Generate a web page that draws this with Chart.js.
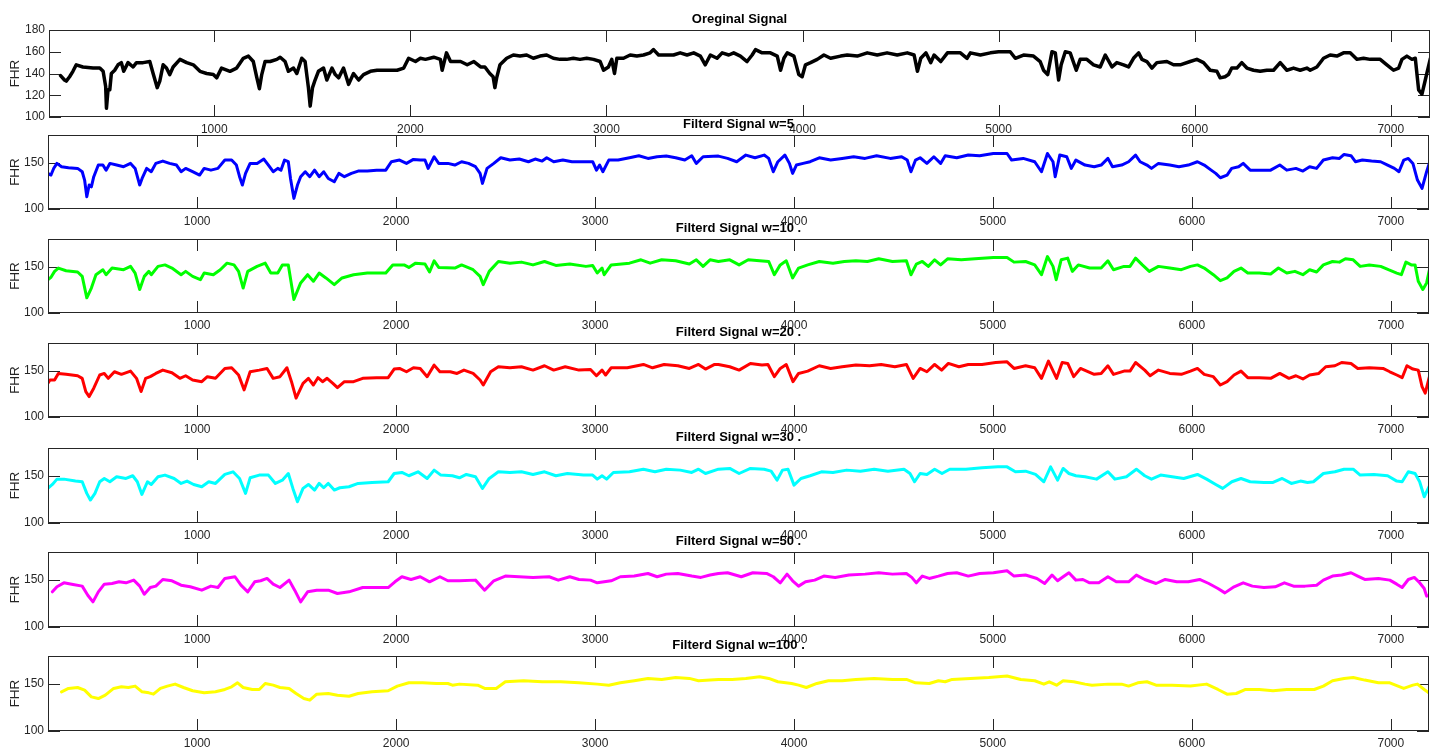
<!DOCTYPE html>
<html>
<head>
<meta charset="utf-8">
<script src="https://cdn.jsdelivr.net/npm/chart.js@4.4.1/dist/chart.umd.min.js"></script>
<style>
  html, body { margin: 0; padding: 0; background: #ffffff; }
  #wrap { position: relative; width: 1437px; height: 749px; overflow: hidden; background: #ffffff; }
  #wrap canvas { position: absolute; left: 0; }
</style>
</head>
<body>
<div id="wrap"></div>
<script>
// ---------------- DATA ----------------
const xTickValues = [1000, 2000, 3000, 4000, 5000, 6000, 7000];
const yTicksOriginal = [100, 120, 140, 160, 180];
const yTicksFiltered = [100, 150];
const panelTitles = ['Oreginal Signal', 'Filterd Signal w=5', 'Filterd Signal w=10 .', 'Filterd Signal w=20 .', 'Filterd Signal w=30 .', 'Filterd Signal w=50 .', 'Filterd Signal w=100 .'];
const yAxisLabel = 'FHR';

const originalSignal = [[216,138],[236,134],[245,133],[262,137],[279,142],[296,148],[330,146],[382,145],[416,145],[433,142],[446,128],[450,108],[458,125],[467,125],[475,140],[492,143],[509,148],[526,150],[538,142],[560,150],[586,146],[603,150],[637,150],[671,151],[688,140],[709,127],[722,133],[739,148],[756,145],[773,139],[790,146],[825,153],[859,150],[893,148],[927,142],[961,140],[995,139],[1012,136],[1037,145],[1080,142],[1114,145],[1148,154],[1174,156],[1199,151],[1216,137],[1230,126],[1242,139],[1259,151],[1285,151],[1319,153],[1336,155],[1361,151],[1378,142],[1404,145],[1421,140],[1446,154],[1463,151],[1480,127],[1489,110],[1501,127],[1514,134],[1531,142],[1557,145],[1574,134],[1600,145],[1617,139],[1634,136],[1659,145],[1685,130],[1710,140],[1736,134],[1761,139],[1796,142],[1830,143],[1881,143],[1932,143],[1966,145],[1991,154],[2026,151],[2051,154],[2077,153],[2119,155],[2153,153],[2162,143],[2184,159],[2205,151],[2256,151],[2290,148],[2324,151],[2358,146],[2380,146],[2405,140],[2422,137],[2431,127],[2440,136],[2457,148],[2491,154],[2525,157],[2559,156],[2593,157],[2627,154],[2661,156],[2695,157],[2729,154],[2763,153],[2797,153],[2831,154],[2865,153],[2899,154],[2934,153],[2968,151],[2985,143],[3010,146],[3027,153],[3041,140],[3053,154],[3087,154],[3121,157],[3155,156],[3189,157],[3223,159],[3240,162],[3266,157],[3308,157],[3342,157],[3376,159],[3411,157],[3445,159],[3479,156],[3504,148],[3530,157],[3564,154],[3590,159],[3624,157],[3649,159],[3683,156],[3717,151],[3743,157],[3760,162],[3794,159],[3836,159],[3871,156],[3888,143],[3905,154],[3922,159],[3956,156],[3981,139],[3998,137],[4015,148],[4041,150],[4075,153],[4109,157],[4143,154],[4194,156],[4228,157],[4279,156],[4330,159],[4381,157],[4431,159],[4483,157],[4534,159],[4569,157],[4586,142],[4603,154],[4629,159],[4654,150],[4671,157],[4705,151],[4739,159],[4790,159],[4805,159],[4839,154],[4856,159],[4907,157],[4958,159],[5000,160],[5059,160],[5085,154],[5127,157],[5178,156],[5212,151],[5229,143],[5250,139],[5272,160],[5289,159],[5306,134],[5319,148],[5340,160],[5365,159],[5396,143],[5416,153],[5450,153],[5484,148],[5518,146],[5544,157],[5578,146],[5603,150],[5637,148],[5663,146],[5688,154],[5714,159],[5731,153],[5756,151],[5782,145],[5807,150],[5858,151],[5892,148],[5926,148],[5977,151],[6011,153],[6045,150],[6079,143],[6113,142],[6130,136],[6155,137],[6172,139],[6189,145],[6215,145],[6240,150],[6266,145],[6300,143],[6334,142],[6368,143],[6402,143],[6436,150],[6470,143],[6504,145],[6538,143],[6572,145],[6589,143],[6623,146],[6657,154],[6691,157],[6725,156],[6759,159],[6793,159],[6827,153],[6861,154],[6895,153],[6946,153],[6980,148],[7014,143],[7040,145],[7057,153],[7082,156],[7108,153],[7125,154],[7142,125],[7159,121],[7176,134],[7202,154]];

const filteredW5 = [[249,138.5],[265,136.7],[279,144],[295,149.3],[318,145.7],[353,144.6],[399,143.9],[422,140.3],[434,131.3],[445,113.3],[457,125.9],[468,124],[480,134.9],[503,147.5],[526,147.5],[542,142],[561,149.3],[595,147.5],[630,145.7],[665,149.3],[688,143.9],[711,125.9],[723,133],[746,143.9],[769,140.3],[792,149.3],[827,151.8],[861,149.3],[896,147.5],[919,140.3],[942,143.9],[977,140.3],[1012,136.7],[1035,143.9],[1069,142],[1104,143.9],[1139,152.9],[1173,152.9],[1197,147.5],[1213,134.9],[1227,125.9],[1243,138.5],[1266,149.3],[1301,149.3],[1335,154],[1358,147.5],[1382,140.3],[1405,143.9],[1421,142],[1439,152.9],[1458,151.1],[1469,133],[1486,111.5],[1504,125.9],[1520,134.9],[1543,140.3],[1566,134.9],[1590,142],[1613,134.9],[1636,140.3],[1659,133],[1689,129.5],[1712,138.5],[1740,134.9],[1775,138.5],[1809,141],[1855,141],[1902,142],[1948,142],[1976,151.1],[2017,152.9],[2052,149.3],[2087,153.6],[2121,152.9],[2145,152.9],[2161,143.9],[2191,156.5],[2214,149.3],[2260,149.3],[2295,147.5],[2329,151.1],[2364,149.3],[2399,145.7],[2422,138.5],[2434,127.7],[2457,143.9],[2491,149.3],[2526,155.4],[2572,152.9],[2619,154],[2665,151.1],[2699,154],[2734,151.8],[2757,155.4],[2792,151.1],[2838,152.9],[2884,151.1],[2942,151.1],[2988,151.1],[3007,142],[3023,147.5],[3039,140.3],[3069,152.9],[3116,152.9],[3173,155.4],[3220,157.6],[3266,154.7],[3312,156.5],[3358,157.2],[3405,155.4],[3451,152.9],[3486,157.6],[3509,149.3],[3543,156.5],[3620,157.2],[3666,154.7],[3712,151.1],[3758,158.3],[3804,155.4],[3850,158.3],[3873,154.7],[3896,140.3],[3919,151.1],[3954,158.3],[3977,149.3],[3993,138.5],[4012,147.5],[4046,149.3],[4081,151.1],[4127,155.4],[4184,152.9],[4242,154.7],[4300,156.5],[4357,154.7],[4415,157.6],[4484,154.7],[4541,156.5],[4569,152.9],[4588,140.3],[4611,152.9],[4634,155.4],[4668,149.3],[4703,156.5],[4737,149.3],[4760,157.6],[4818,155.4],[4876,158.3],[4933,157.6],[5002,160],[5071,160],[5094,152.9],[5152,154.7],[5210,151.1],[5244,140.3],[5274,160],[5302,151.1],[5313,134.9],[5336,158.3],[5371,156.5],[5394,143.9],[5417,152.9],[5463,147.5],[5509,145.7],[5544,147.5],[5578,154.7],[5601,145.7],[5647,147.5],[5682,151.1],[5717,158.3],[5740,151.1],[5774,147.5],[5797,143.9],[5832,149.3],[5889,147.5],[5935,145.7],[5982,147.5],[6028,151.1],[6062,147.5],[6097,142],[6120,138.5],[6143,133.8],[6177,136.7],[6200,143.9],[6235,145.7],[6258,149.3],[6293,142],[6350,142],[6396,142],[6442,147.5],[6477,142],[6523,143.9],[6558,141],[6592,145.7],[6627,143.9],[6661,152.9],[6707,155.4],[6742,154.7],[6765,159],[6800,157.6],[6822,151.1],[6857,152.9],[6903,151.8],[6949,151.1],[6984,147.5],[7018,143.9],[7041,140.3],[7065,152.9],[7088,154.7],[7111,149.3],[7134,131.3],[7157,122.3],[7180,140.3],[7196,151.1]];

const filteredW10 = [[249,136],[265,138.6],[283,145],[302,148.6],[341,145.7],[399,144.3],[422,139.6],[445,116.4],[468,127],[491,141.4],[526,146.8],[542,141.4],[572,148.6],[630,146.8],[665,150.4],[688,143.2],[711,125.4],[734,139.6],[757,145],[769,141.4],[803,150.4],[838,152],[873,148.6],[919,141.4],[942,145],[977,139.6],[1016,136],[1035,143.2],[1081,141.4],[1116,146.8],[1150,153.9],[1185,152],[1208,145],[1231,127],[1254,145],[1301,150.4],[1342,153.9],[1370,143.2],[1405,143.2],[1428,152],[1458,152],[1486,114.6],[1520,132.5],[1555,141.4],[1584,134.3],[1613,143.2],[1647,137.9],[1689,130.7],[1728,137.9],[1786,141.4],[1855,143.2],[1948,143.2],[1983,152],[2040,152],[2064,149.3],[2098,153.9],[2145,152.9],[2168,144.3],[2191,156.4],[2214,149.3],[2295,148.6],[2329,152],[2387,146.8],[2422,139.6],[2438,130.7],[2468,145],[2514,155.7],[2572,153.9],[2630,155],[2688,152],[2746,155.7],[2803,151.4],[2873,152.9],[2954,150.4],[2988,151.4],[3011,143.2],[3035,148.6],[3046,141.4],[3081,152],[3173,153.9],[3231,157.5],[3277,153.9],[3335,157.5],[3405,156.4],[3474,152.9],[3509,157.5],[3543,150.4],[3578,157.5],[3620,155.7],[3677,157.5],[3724,152],[3770,157.5],[3827,156.4],[3873,155.7],[3901,141.4],[3931,152],[3961,156.4],[3993,137.9],[4023,148.6],[4069,152],[4127,155.7],[4196,153.9],[4253,155.7],[4311,156.4],[4369,155.7],[4426,158.6],[4495,155.7],[4565,156.4],[4588,141.4],[4615,152.9],[4645,155.7],[4675,150.4],[4707,157.5],[4737,152],[4772,158.6],[4841,157.5],[4910,158.6],[5002,160],[5071,160],[5106,155],[5164,155.7],[5210,152],[5244,141.4],[5274,161],[5302,150.4],[5318,136],[5343,157.5],[5376,159.3],[5399,145],[5429,152],[5486,148.6],[5544,148.6],[5578,156.4],[5606,146.8],[5659,150.4],[5689,150.4],[5717,159.3],[5751,152],[5786,145],[5832,150.4],[5889,148.6],[5947,146.8],[5993,150.4],[6028,152],[6062,148.6],[6108,141.4],[6143,135],[6177,137.9],[6212,145],[6247,148.6],[6281,143.2],[6339,143.2],[6396,142.1],[6435,148.6],[6477,143.2],[6518,145],[6558,141.4],[6592,146.8],[6627,144.3],[6661,152],[6707,155.7],[6742,155],[6772,158.6],[6811,157.5],[6846,150.4],[6892,152],[6949,150.4],[6988,146.8],[7030,143.2],[7053,141.4],[7076,155],[7103,152],[7122,152],[7138,134.3],[7161,125.4],[7180,132.5],[7196,148.6]];

const filteredW20 = [[249,136.4],[260,140],[283,140],[302,147.1],[341,146.1],[399,144.6],[422,141.8],[440,127.5],[457,122.1],[480,131.1],[510,145.4],[533,147.1],[553,141.8],[584,148.9],[619,146.1],[665,149.6],[695,141.8],[718,127.5],[741,141.8],[764,143.6],[792,147.1],[827,150.7],[873,147.9],[913,141.8],[942,144.6],[977,140],[1023,138.2],[1051,143.6],[1092,141.8],[1139,152.5],[1173,153.2],[1208,145.4],[1236,129.3],[1266,148.9],[1312,150.7],[1351,152.5],[1382,141.8],[1416,143.6],[1451,153.2],[1474,138.2],[1497,120.4],[1532,136.4],[1559,141.8],[1584,134.6],[1607,142.5],[1630,138.2],[1653,141.8],[1682,136.4],[1705,131.8],[1740,138.2],[1786,138.2],[1832,141.8],[1902,142.5],[1960,142.5],[1990,151.8],[2017,152.5],[2052,148.9],[2087,153.2],[2121,152.5],[2156,143.6],[2191,156.1],[2220,148.9],[2272,148.9],[2306,147.1],[2341,150.7],[2387,147.1],[2422,140],[2438,134.6],[2475,148.9],[2514,154.3],[2572,153.2],[2630,154.3],[2688,150.7],[2746,155.4],[2792,150.7],[2850,154.3],[2919,150.7],[2977,151.4],[3007,144.6],[3035,150.7],[3053,145.4],[3081,153.2],[3162,153.2],[3243,156.8],[3289,153.2],[3347,156.8],[3416,155.4],[3474,152.5],[3520,156.8],[3555,151.8],[3601,156.8],[3620,156.8],[3677,154.3],[3724,150.7],[3781,157.9],[3839,156.1],[3869,156.8],[3901,143.6],[3931,152.5],[3961,156.8],[3995,138.2],[4023,147.1],[4069,149.6],[4127,155.4],[4184,152.5],[4242,154.3],[4311,156.1],[4380,155.4],[4438,156.8],[4507,154.3],[4565,156.8],[4599,141.8],[4634,152.5],[4668,148.9],[4707,156.8],[4742,150.7],[4776,157.9],[4829,154.3],[4876,156.8],[4945,156.8],[5014,158.9],[5071,159.6],[5106,152.5],[5164,155.4],[5210,153.2],[5244,141.8],[5279,160.4],[5320,141.8],[5348,158.9],[5376,157.9],[5406,143.6],[5440,152.5],[5509,146.1],[5544,147.1],[5578,155.4],[5606,146.1],[5659,149.6],[5689,149.6],[5717,158.9],[5763,150.7],[5790,144.6],[5832,150.7],[5889,147.1],[5947,146.1],[5993,149.6],[6028,152.5],[6062,146.1],[6108,143.6],[6143,134.6],[6177,138.2],[6212,145.4],[6247,149.6],[6281,142.5],[6339,142.5],[6396,141.8],[6442,147.1],[6488,141.8],[6523,144.6],[6558,141.1],[6592,145.4],[6638,147.1],[6673,154.3],[6719,155.4],[6753,158.9],[6800,157.9],[6834,152.5],[6892,153.2],[6961,152.5],[6995,148.9],[7030,145.4],[7057,142.5],[7081,155.4],[7111,151.8],[7138,150.7],[7157,132.9],[7173,125.7],[7196,145.4]];

const filteredW30 = [[249,136.9],[272,141.1],[295,146.8],[330,146.8],[388,144.7],[422,144],[445,131.6],[463,124.5],[486,131.6],[510,144],[533,147.5],[561,144],[595,149.3],[642,147.5],[676,150.4],[699,144],[722,130.5],[750,144],[769,141.1],[803,149.3],[838,151.1],[884,147.5],[919,142.2],[949,144.7],[982,141.1],[1023,138.7],[1058,144],[1092,142.2],[1139,151.8],[1180,154.6],[1213,147.5],[1243,131.6],[1266,148.2],[1312,151.1],[1358,151.1],[1393,142.2],[1428,145.7],[1458,152.8],[1481,136.9],[1504,122.7],[1532,136.9],[1559,141.1],[1590,135.1],[1613,142.2],[1636,137.6],[1659,142.2],[1689,135.1],[1717,137.6],[1763,138.7],[1809,142.2],[1879,143.3],[1960,144],[1990,152.8],[2029,153.9],[2064,150.4],[2110,154.6],[2156,147.5],[2191,156.4],[2225,151.1],[2283,150.4],[2318,148.2],[2353,151.8],[2399,149.3],[2434,136.9],[2468,147.5],[2514,154.6],[2572,153.9],[2630,154.6],[2688,151.8],[2746,154.6],[2803,150.4],[2861,152.8],[2942,151.1],[2988,151.1],[3011,146.8],[3035,150.4],[3058,146.8],[3092,153.9],[3173,154.6],[3243,157.4],[3301,154.6],[3358,157.4],[3428,156.4],[3486,153.9],[3520,157.4],[3555,152.8],[3620,157.4],[3677,158.2],[3724,152.8],[3781,158.2],[3850,157.4],[3885,155.3],[3915,145.7],[3942,156.4],[3970,157.4],[4000,140.4],[4035,147.5],[4081,150.4],[4138,154.6],[4196,153.9],[4265,156.4],[4334,155.3],[4403,157.4],[4472,155.3],[4553,157.4],[4583,152.8],[4606,144],[4634,152.8],[4668,151.8],[4707,157.4],[4744,152.8],[4783,157.4],[4864,157.4],[4945,158.9],[5025,159.9],[5071,159.9],[5113,154.6],[5164,155.3],[5214,151.8],[5256,144],[5290,159.9],[5325,145.7],[5353,158.2],[5382,152.8],[5417,150.4],[5463,149.3],[5521,146.8],[5578,154.6],[5613,146.8],[5671,149.3],[5721,157.4],[5763,150.4],[5797,146.8],[5843,151.1],[5901,149.3],[5959,147.5],[6028,151.8],[6074,146.8],[6120,141.1],[6155,136.9],[6201,144],[6247,147.5],[6293,144],[6362,143.3],[6408,143.3],[6454,147.5],[6500,142.2],[6546,144.7],[6581,143.3],[6611,144],[6661,152.8],[6719,154.6],[6765,157.4],[6811,157.4],[6846,151.1],[6915,151.8],[6984,150.4],[7030,144.7],[7057,144],[7088,154.6],[7122,152.8],[7145,144],[7168,128],[7196,140.4]];

const filteredW50 = [[272,137.5],[295,142.9],[330,147.1],[376,145.4],[422,143.6],[450,133.9],[476,126.8],[503,137.5],[533,145.7],[572,146.4],[607,148.2],[642,147.1],[681,150],[711,143.6],[734,135],[764,142.1],[792,143.6],[827,150.7],[873,149.3],[919,144.6],[965,142.9],[1023,139.3],[1069,143.6],[1104,142.1],[1139,151.8],[1190,153.6],[1220,144.6],[1254,137.5],[1289,148.2],[1319,149.3],[1351,151.8],[1382,145.7],[1416,142.1],[1462,150],[1490,139.3],[1520,126.8],[1555,137.5],[1601,139.3],[1659,139.3],[1705,135.7],[1763,137.5],[1832,142.1],[1960,142.1],[1994,148.2],[2029,153.6],[2075,150.7],[2121,153.6],[2168,148.2],[2220,153.6],[2260,149.3],[2318,149.3],[2399,150],[2445,139.3],[2491,149.3],[2549,154.3],[2618,153.6],[2688,152.9],[2769,153.6],[2815,150],[2873,153.6],[2919,150.7],[2977,150],[3011,147.1],[3081,149.3],[3127,153.6],[3197,154.3],[3266,157.1],[3312,153.6],[3358,156.4],[3416,157.1],[3486,154.3],[3532,152.9],[3578,155.4],[3620,157.1],[3666,157.9],[3735,153.6],[3793,157.9],[3862,157.1],[3896,153.6],[3931,147.1],[3965,156.4],[3993,149.3],[4023,143.6],[4058,148.2],[4104,150],[4150,154.3],[4207,152.9],[4276,155.4],[4357,156.4],[4426,157.9],[4495,156.4],[4565,157.1],[4592,152.9],[4615,147.1],[4645,154.3],[4680,151.8],[4726,154.3],[4772,157.1],[4818,157.9],[4876,154.3],[4933,157.1],[5002,157.9],[5071,160],[5106,154.3],[5164,155.4],[5221,151.8],[5260,146.4],[5297,155.4],[5325,149.3],[5353,153.6],[5382,157.9],[5417,150],[5452,150.7],[5486,147.1],[5532,147.1],[5578,153.6],[5620,148.2],[5682,148.2],[5721,155.4],[5763,150.7],[5820,146.4],[5866,150.7],[5924,148.2],[5982,148.2],[6039,150.7],[6085,146.4],[6131,141.1],[6166,136.4],[6212,142.9],[6258,147.1],[6304,143.6],[6362,142.1],[6419,142.9],[6465,147.1],[6511,143.6],[6569,143.6],[6627,144.6],[6661,150],[6707,154.3],[6753,155.4],[6800,157.9],[6834,154.3],[6869,150.7],[6938,151.8],[6995,150],[7030,145.7],[7057,142.1],[7088,150.7],[7118,152.9],[7141,148.2],[7168,141.1],[7180,132.9],[7196,133.9]];

const filteredW100 = [[318,141.8],[353,145.4],[399,146.4],[434,143.6],[468,136.4],[503,134.6],[538,138.2],[580,145.4],[619,147.1],[654,146.4],[688,147.9],[723,141.8],[757,140.7],[780,139.3],[815,145.4],[850,147.9],[889,150],[931,146.4],[977,142.9],[1035,140.7],[1092,141.8],[1139,144.3],[1173,147.1],[1203,151.4],[1231,146.4],[1277,144.3],[1312,144.3],[1342,150.7],[1382,148.9],[1416,146.4],[1462,145.4],[1497,140],[1536,134.6],[1566,132.9],[1601,139.3],[1659,140],[1705,138.2],[1763,137.1],[1809,140],[1879,141.8],[1960,142.9],[2006,147.9],[2064,151.4],[2133,151.4],[2202,150.7],[2260,150.7],[2283,148.9],[2318,150],[2410,148.9],[2445,145.4],[2503,145.4],[2549,152.5],[2641,153.6],[2734,152.5],[2827,152.5],[2919,151.4],[3011,150],[3069,148.9],[3127,151.4],[3197,153.6],[3266,156.1],[3335,155],[3405,157.1],[3474,156.1],[3520,153.6],[3578,154.3],[3620,155],[3689,155],[3758,156.1],[3827,157.9],[3873,156.1],[3919,152.5],[3988,150.7],[4023,148.9],[4062,146.4],[4115,150.7],[4173,153.6],[4242,153.6],[4311,155],[4403,156.1],[4495,155],[4565,155],[4611,151.4],[4680,150.7],[4726,153.6],[4760,152.5],[4795,155],[4887,156.1],[4979,157.1],[5071,158.6],[5140,155],[5210,153.6],[5256,150],[5283,152.5],[5320,148.9],[5353,153.6],[5406,152.5],[5463,150],[5498,148.9],[5578,150],[5647,150],[5682,147.9],[5728,151.4],[5774,152.5],[5820,148.9],[5901,148.9],[5993,147.9],[6074,150],[6131,144.3],[6177,139.3],[6223,140],[6270,144.3],[6339,144.3],[6408,142.9],[6477,144.3],[6546,144.3],[6615,144.3],[6661,147.9],[6707,153.6],[6765,156.1],[6811,157.1],[6869,154.3],[6938,151.4],[6995,151.4],[7065,145.4],[7111,148.9],[7134,150],[7168,144.3],[7191,140.7]];

// ---------------- LAYOUT / STYLE (not data) ----------------
const CANVAS_W = 1437;
const TITLE_H = 18;
const XAXIS_H = 22;
const panels = [
  { title: panelTitles[0], data: originalSignal, color: '#000000', lw: 3.5, yTicks: yTicksOriginal, xMin: 157, xMax: 7200, top: 30,  bottom: 117, left: 49, right: 1430 },
  { title: panelTitles[1], data: filteredW5,     color: '#0000ff', lw: 3,   yTicks: yTicksFiltered, xMin: 250, xMax: 7192, top: 135, bottom: 209, left: 48, right: 1429 },
  { title: panelTitles[2], data: filteredW10,    color: '#00ff00', lw: 3,   yTicks: yTicksFiltered, xMin: 250, xMax: 7192, top: 239, bottom: 313, left: 48, right: 1429 },
  { title: panelTitles[3], data: filteredW20,    color: '#ff0000', lw: 3,   yTicks: yTicksFiltered, xMin: 250, xMax: 7192, top: 343, bottom: 417, left: 48, right: 1429 },
  { title: panelTitles[4], data: filteredW30,    color: '#00ffff', lw: 3,   yTicks: yTicksFiltered, xMin: 250, xMax: 7192, top: 448, bottom: 523, left: 48, right: 1429 },
  { title: panelTitles[5], data: filteredW50,    color: '#ff00ff', lw: 3,   yTicks: yTicksFiltered, xMin: 250, xMax: 7192, top: 552, bottom: 627, left: 48, right: 1429 },
  { title: panelTitles[6], data: filteredW100,   color: '#ffff00', lw: 3,   yTicks: yTicksFiltered, xMin: 250, xMax: 7192, top: 656, bottom: 731, left: 48, right: 1429 }
];

Chart.defaults.font.family = "'Liberation Sans', Arial, Helvetica, sans-serif";
const AXIS_COLOR = '#262626';
const TICK_LEN = 12;

// draws MATLAB-style inward ticks (from the scales' own ticks) and the axes box
const matlabBox = {
  id: 'matlabBox',
  beforeDatasetsDraw(chart) {
    const { ctx, chartArea: a, scales: { x, y } } = chart;
    ctx.save();
    ctx.strokeStyle = AXIS_COLOR;
    ctx.lineWidth = 1;
    ctx.beginPath();
    x.ticks.forEach(t => {
      const px = Math.round(x.getPixelForValue(t.value)) + 0.5;
      ctx.moveTo(px, a.bottom); ctx.lineTo(px, a.bottom - TICK_LEN);
      ctx.moveTo(px, a.top); ctx.lineTo(px, a.top + TICK_LEN);
    });
    y.ticks.forEach(t => {
      const py = Math.round(y.getPixelForValue(t.value)) + 0.5;
      ctx.moveTo(a.left, py); ctx.lineTo(a.left + TICK_LEN, py);
      ctx.moveTo(a.right, py); ctx.lineTo(a.right - TICK_LEN, py);
    });
    ctx.stroke();
    ctx.restore();
  },
  afterDatasetsDraw(chart) {
    const { ctx, chartArea: a } = chart;
    ctx.save();
    ctx.strokeStyle = AXIS_COLOR;
    ctx.lineWidth = 1;
    ctx.strokeRect(Math.round(a.left) + 0.5, Math.round(a.top) + 0.5, Math.round(a.right - a.left) - 1, Math.round(a.bottom - a.top) - 1);
    ctx.restore();
  }
};

const plainNumber = v => String(v);

const wrap = document.getElementById('wrap');
panels.forEach(p => {
  const c = document.createElement('canvas');
  const h = (p.bottom - p.top) + TITLE_H + XAXIS_H;
  c.width = CANVAS_W;
  c.height = h;
  c.style.width = CANVAS_W + 'px';
  c.style.height = h + 'px';
  c.style.top = (p.top - TITLE_H) + 'px';
  wrap.appendChild(c);

  new Chart(c.getContext('2d'), {
    type: 'line',
    data: {
      datasets: [{
        data: p.data.map(d => ({ x: d[0], y: d[1] })),
        borderColor: p.color,
        borderWidth: p.lw,
        pointRadius: 0,
        tension: 0,
        fill: false,
        borderJoinStyle: 'round',
        borderCapStyle: 'round'
      }]
    },
    options: {
      responsive: false,
      animation: false,
      devicePixelRatio: 1,
      layout: { padding: { left: 0, right: CANVAS_W - p.right, top: 0, bottom: 0 } },
      plugins: {
        legend: { display: false },
        tooltip: { enabled: false },
        title: {
          display: true,
          text: p.title,
          fullSize: false,
          color: '#000000',
          font: { size: 13, weight: 'bold', lineHeight: 1.2 },
          padding: { top: 0, bottom: 2.4 }
        }
      },
      scales: {
        x: {
          type: 'linear',
          min: p.xMin,
          max: p.xMax,
          grid: { display: false, drawTicks: false },
          border: { display: false },
          afterFit: s => { s.height = XAXIS_H; },
          afterBuildTicks: s => { s.ticks = xTickValues.map(v => ({ value: v })); },
          ticks: { font: { size: 12 }, color: AXIS_COLOR, padding: 5, maxRotation: 0, autoSkip: false, callback: plainNumber }
        },
        y: {
          min: 100,
          max: 180,
          grid: { display: false, drawTicks: false },
          border: { display: false },
          afterFit: s => { s.width = p.left; },
          afterBuildTicks: s => { s.ticks = p.yTicks.map(v => ({ value: v })); },
          ticks: { font: { size: 12 }, color: AXIS_COLOR, padding: 4, callback: plainNumber },
          title: { display: true, text: yAxisLabel, color: AXIS_COLOR, font: { size: 13.5 }, padding: { top: 7.3, bottom: 0 } }
        }
      }
    },
    plugins: [matlabBox]
  });
});
</script>
</body>
</html>
